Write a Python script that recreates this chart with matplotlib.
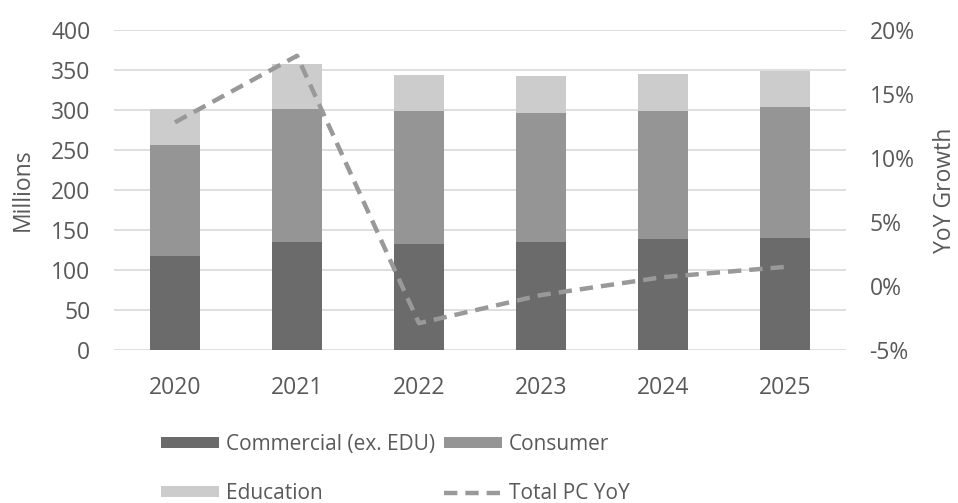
import numpy as np
import matplotlib.pyplot as plt
from matplotlib.ticker import PercentFormatter

plt.rcParams['font.family'] = ['Open Sans', 'DejaVu Sans']
plt.rcParams['axes.unicode_minus'] = False

# Data (millions of units, YoY growth %)
years = ['2020', '2021', '2022', '2023', '2024', '2025']
commercial = [117.5, 135.5, 133, 135.5, 138.5, 140.5]
consumer = [139, 166.5, 166.5, 161, 161, 163.5]
education = [45.5, 56, 45, 46, 45.5, 44.5]
yoy = [12.8, 18.0, -2.9, -0.7, 0.7, 1.5]

text_col = '#595959'
tick_fs = 16.5
label_fs = 16.5
leg_fs = 15

fig = plt.figure(figsize=(9.58, 5.03), dpi=100)
ax = fig.add_axes([0.119, 0.304, 0.764, 0.636])
x = np.arange(len(years))
w = 0.41

b1 = ax.bar(x, commercial, w, color='#6b6b6b', label='Commercial (ex. EDU)', zorder=2)
b2 = ax.bar(x, consumer, w, bottom=commercial, color='#959595', label='Consumer', zorder=2)
bottom2 = np.array(commercial) + np.array(consumer)
b3 = ax.bar(x, education, w, bottom=bottom2, color='#cccccc', label='Education', zorder=2)

ax.set_ylim(0, 400)
ax.set_yticks(range(0, 401, 50))
ax.set_xlim(-0.5, len(years) - 0.5)
ax.set_xticks(x)
ax.set_xticklabels(years)
ax.yaxis.grid(True, color='#d9d9d9', linewidth=1.2, zorder=0)
ax.set_axisbelow(True)
for s in ax.spines.values():
    s.set_visible(False)
ax.tick_params(length=0, labelsize=tick_fs, colors=text_col)
ax.tick_params(axis='y', pad=17)
ax.tick_params(axis='x', pad=19)
ax.set_ylabel('Millions', fontsize=label_fs, color=text_col, labelpad=12)

ax2 = ax.twinx()
ln, = ax2.plot(x, yoy, color='#999999', linestyle=(0, (3, 1.8)), linewidth=3.2,
               label='Total PC YoY', zorder=3)
ax2.set_ylim(-5, 20)
ax2.set_yticks(range(-5, 21, 5))
ax2.yaxis.set_major_formatter(PercentFormatter(decimals=0))
for s in ax2.spines.values():
    s.set_visible(False)
ax2.tick_params(length=0, labelsize=tick_fs, colors=text_col, pad=17)
ax2.set_ylabel('YoY Growth', fontsize=label_fs, color=text_col, labelpad=13)

handles = [b1, b3, b2, ln]
labels = [h.get_label() for h in handles]
leg = fig.legend(handles, labels, ncol=2, loc='upper left', bbox_to_anchor=(0.168, 0.137),
                 frameon=False, fontsize=leg_fs, handlelength=2.8, handleheight=0.45,
                 handletextpad=0.3, columnspacing=0.45, labelspacing=1.35,
                 borderaxespad=0, borderpad=0)
for t in leg.get_texts():
    t.set_color(text_col)

fig.savefig('out.png', dpi=100)
